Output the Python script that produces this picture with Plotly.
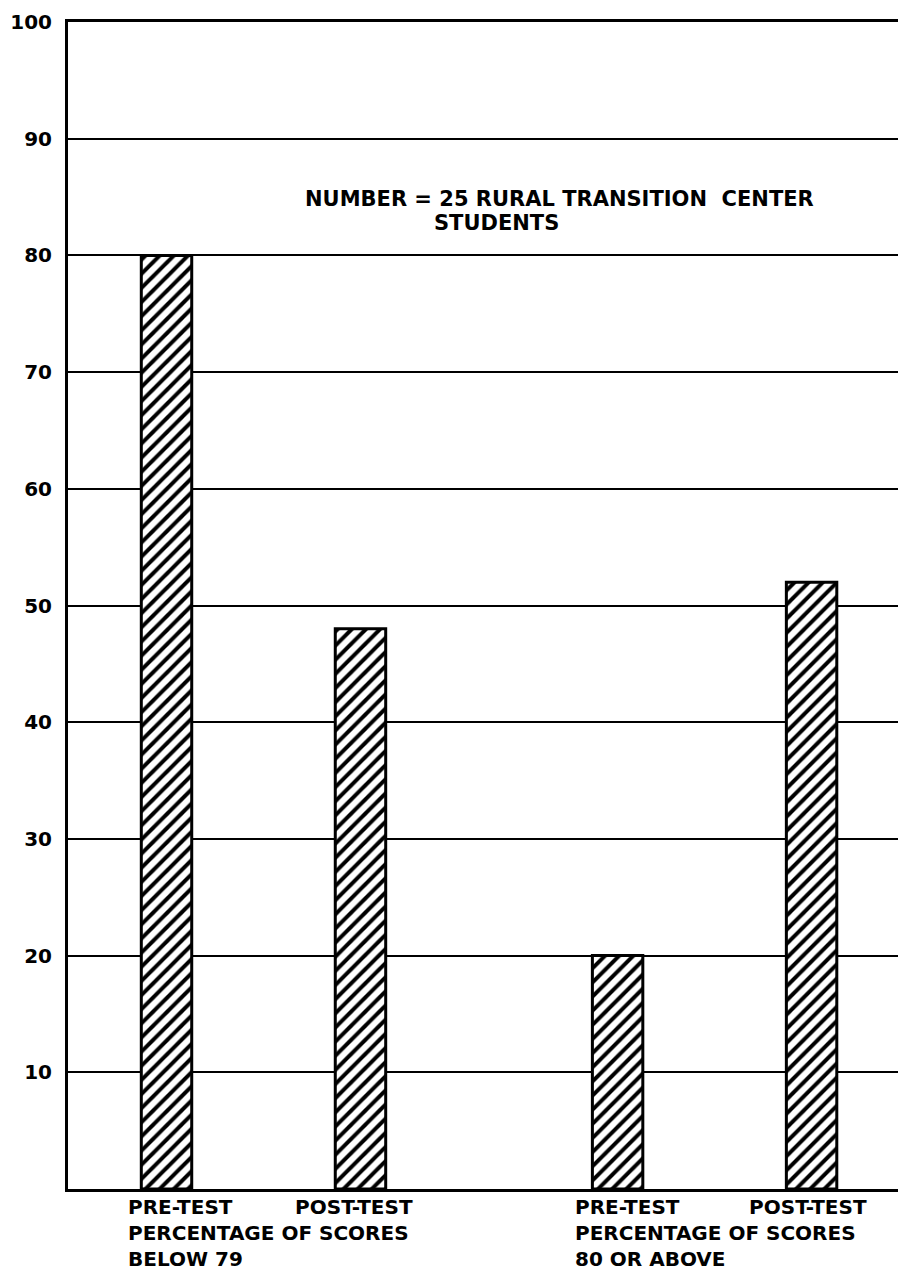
import plotly.graph_objects as go

# ---- data ----
groups = ["PERCENTAGE OF SCORES BELOW 79", "PERCENTAGE OF SCORES 80 OR ABOVE"]
group_line2 = ["PERCENTAGE OF SCORES", "PERCENTAGE OF SCORES"]
group_line3 = ["BELOW 79", "80 OR ABOVE"]
series_names = ["PRE-TEST", "POST-TEST"]
pre_test = [80, 20]
post_test = [48, 52]
y_ticks = [10, 20, 30, 40, 50, 60, 70, 80, 90, 100]
note_line1 = "NUMBER = 25 RURAL TRANSITION  CENTER"
note_line2 = "STUDENTS"

FONT = "DejaVu Sans"
W, H = 898, 1270
ML, MR, MT, MB = 68, 0, 22, 81
BARGAP = 0.14
BARGROUPGAP = 0.74
XR = [-0.4334, 1.4066]

pattern = dict(shape="/", fgcolor="black", bgcolor="white", fgopacity=1,
               size=10, solidity=0.4)

fig = go.Figure()
for name, vals in zip(series_names, [pre_test, post_test]):
    fig.add_trace(go.Bar(
        x=groups, y=vals, name=name, showlegend=False,
        marker=dict(color="white", pattern=pattern, line=dict(color="black", width=3)),
    ))

plot_w = W - ML - MR
def px_to_paper(px):
    return (px - ML) / plot_w

txt_font = dict(family=FONT, size=20, color="black", weight="bold")
annotations = []
block_left_px = [126, 573]
gap_spaces = [9, 10]
for i in range(len(groups)):
    line1 = series_names[0] + " " * gap_spaces[i] + series_names[1]
    text = "<br>".join([line1, group_line2[i], group_line3[i]])
    annotations.append(dict(
        x=px_to_paper(block_left_px[i]), xref="paper", y=0, yref="paper",
        xanchor="left", yanchor="middle", yshift=-44, text=text,
        showarrow=False, font=txt_font, align="left",
    ))

note_font = dict(family=FONT, size=21, color="black", weight="bold")
annotations.append(dict(x=px_to_paper(303), xref="paper", y=84.8, yref="y",
                        xanchor="left", yanchor="middle", text=note_line1,
                        showarrow=False, font=note_font))
annotations.append(dict(x=px_to_paper(432), xref="paper", y=82.8, yref="y",
                        xanchor="left", yanchor="middle", text=note_line2,
                        showarrow=False, font=note_font))

fig.update_layout(
    width=W, height=H,
    margin=dict(l=ML, r=MR, t=MT, b=MB, pad=0),
    paper_bgcolor="white", plot_bgcolor="white",
    barmode="group", bargap=BARGAP, bargroupgap=BARGROUPGAP,
    annotations=annotations,
    xaxis=dict(type="category", range=XR, showticklabels=False, showgrid=False,
               showline=True, linecolor="black", linewidth=3, mirror=True,
               ticks="", zeroline=False),
    yaxis=dict(range=[0, 100], tickvals=y_ticks, ticktext=[str(v) for v in y_ticks],
               showgrid=True, gridcolor="black", gridwidth=2,
               showline=True, linecolor="black", linewidth=3, mirror=False,
               ticks="", ticklabelstandoff=9, zeroline=False,
               tickfont=dict(family=FONT, size=20, color="black", weight="bold")),
)

fig.write_html(
    "out.html",
    config={"displayModeBar": False},
    post_script="document.body.style.margin='0';document.body.style.overflow='hidden';",
)
